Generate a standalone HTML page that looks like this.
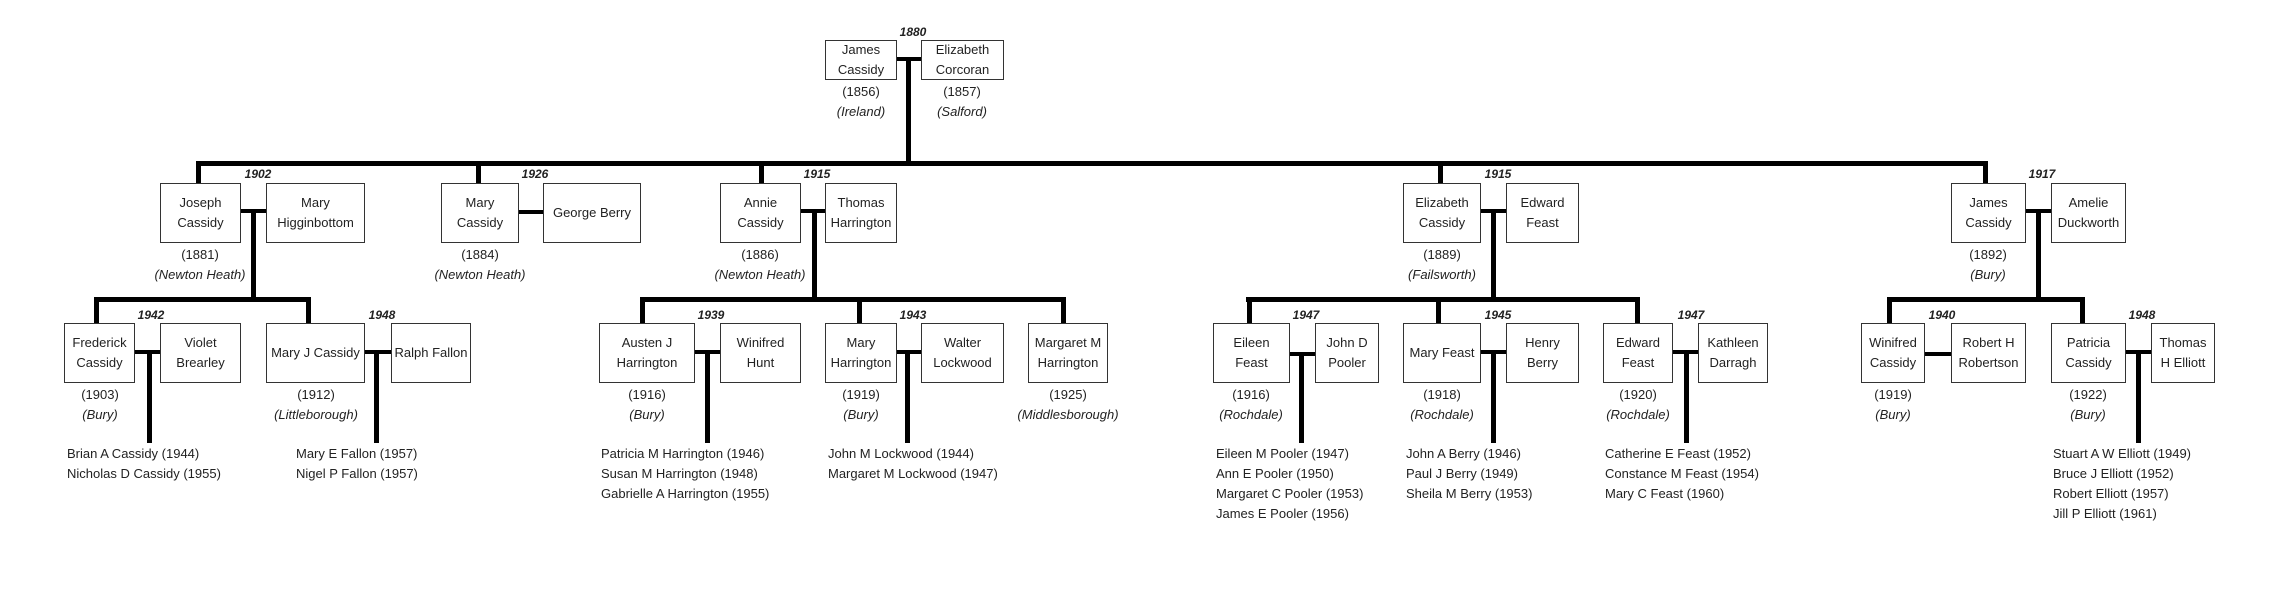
<!DOCTYPE html>
<html><head><meta charset="utf-8"><style>
body{margin:0;width:2278px;height:600px;background:#fff;position:relative;overflow:hidden;font-family:"Liberation Sans Narrow","Liberation Sans",sans-serif;font-size:13px;color:#222}
.b{position:absolute;top:183px;height:60px;border:1px solid #333;box-sizing:border-box;display:flex;align-items:center;justify-content:center;text-align:center;line-height:20px;background:#fff}
.g3{top:323px}
.l{position:absolute;background:#000}
.t{position:absolute;width:200px;text-align:center;line-height:20px;white-space:nowrap}
.i{font-style:italic}
.y{position:absolute;width:60px;text-align:center;font-weight:bold;font-style:italic;font-size:12px;line-height:16px}
.c{position:absolute;line-height:20px;white-space:nowrap}
</style></head><body>
<!-- top -->
<div class="l" style="left:897px;top:57px;width:24px;height:4px"></div>
<div class="l" style="left:906px;top:57px;width:5px;height:106px"></div>
<div class="l" style="left:196px;top:161px;width:1791px;height:5px"></div>
<div class="l" style="left:196px;top:161px;width:5px;height:22px"></div>
<div class="l" style="left:476px;top:161px;width:5px;height:22px"></div>
<div class="l" style="left:759px;top:161px;width:5px;height:22px"></div>
<div class="l" style="left:1438px;top:161px;width:5px;height:22px"></div>
<div class="l" style="left:1983px;top:161px;width:5px;height:22px"></div>
<div class="b" style="top:40px;height:40px;left:825px;width:72px">James<br>Cassidy</div>
<div class="b" style="top:40px;height:40px;left:921px;width:83px">Elizabeth<br>Corcoran</div>
<div class="y" style="left:883px;top:24px">1880</div>
<div class="t" style="left:761px;top:82px">(1856)</div>
<div class="t i" style="left:761px;top:102px">(Ireland)</div>
<div class="t" style="left:862px;top:82px">(1857)</div>
<div class="t i" style="left:862px;top:102px">(Salford)</div>

<!-- gen2 lines -->
<div class="l" style="left:241px;top:209px;width:25px;height:4px"></div>
<div class="l" style="left:251px;top:209px;width:5px;height:91px"></div>
<div class="l" style="left:519px;top:210px;width:24px;height:4px"></div>
<div class="l" style="left:801px;top:209px;width:24px;height:4px"></div>
<div class="l" style="left:812px;top:209px;width:5px;height:91px"></div>
<div class="l" style="left:1481px;top:209px;width:25px;height:4px"></div>
<div class="l" style="left:1491px;top:209px;width:5px;height:91px"></div>
<div class="l" style="left:2026px;top:209px;width:25px;height:4px"></div>
<div class="l" style="left:2036px;top:209px;width:5px;height:91px"></div>
<!-- gen2 boxes -->
<div class="b" style="left:160px;width:81px">Joseph<br>Cassidy</div>
<div class="b" style="left:266px;width:99px">Mary<br>Higginbottom</div>
<div class="b" style="left:441px;width:78px">Mary<br>Cassidy</div>
<div class="b" style="left:543px;width:98px">George Berry</div>
<div class="b" style="left:720px;width:81px">Annie<br>Cassidy</div>
<div class="b" style="left:825px;width:72px">Thomas<br>Harrington</div>
<div class="b" style="left:1403px;width:78px">Elizabeth<br>Cassidy</div>
<div class="b" style="left:1506px;width:73px">Edward<br>Feast</div>
<div class="b" style="left:1951px;width:75px">James<br>Cassidy</div>
<div class="b" style="left:2051px;width:75px">Amelie<br>Duckworth</div>
<div class="y" style="left:228px;top:166px">1902</div>
<div class="y" style="left:505px;top:166px">1926</div>
<div class="y" style="left:787px;top:166px">1915</div>
<div class="y" style="left:1468px;top:166px">1915</div>
<div class="y" style="left:2012px;top:166px">1917</div>
<div class="t" style="left:100px;top:245px">(1881)</div><div class="t i" style="left:100px;top:265px">(Newton Heath)</div>
<div class="t" style="left:380px;top:245px">(1884)</div><div class="t i" style="left:380px;top:265px">(Newton Heath)</div>
<div class="t" style="left:660px;top:245px">(1886)</div><div class="t i" style="left:660px;top:265px">(Newton Heath)</div>
<div class="t" style="left:1342px;top:245px">(1889)</div><div class="t i" style="left:1342px;top:265px">(Failsworth)</div>
<div class="t" style="left:1888px;top:245px">(1892)</div><div class="t i" style="left:1888px;top:265px">(Bury)</div>

<!-- gen3 horizontals -->
<div class="l" style="left:94px;top:297px;width:217px;height:5px"></div>
<div class="l" style="left:640px;top:297px;width:426px;height:5px"></div>
<div class="l" style="left:1246px;top:297px;width:394px;height:5px"></div>
<div class="l" style="left:1887px;top:297px;width:198px;height:5px"></div>
<div class="l" style="left:94px;top:297px;width:5px;height:26px"></div>
<div class="l" style="left:306px;top:297px;width:5px;height:26px"></div>
<div class="l" style="left:640px;top:297px;width:5px;height:26px"></div>
<div class="l" style="left:857px;top:297px;width:5px;height:26px"></div>
<div class="l" style="left:1061px;top:297px;width:5px;height:26px"></div>
<div class="l" style="left:1247px;top:297px;width:5px;height:26px"></div>
<div class="l" style="left:1436px;top:297px;width:5px;height:26px"></div>
<div class="l" style="left:1635px;top:297px;width:5px;height:26px"></div>
<div class="l" style="left:1887px;top:297px;width:5px;height:26px"></div>
<div class="l" style="left:2080px;top:297px;width:5px;height:26px"></div>
<!-- gen3 marriage bars -->
<div class="l" style="left:135px;top:350px;width:25px;height:4px"></div>
<div class="l" style="left:147px;top:350px;width:5px;height:93px"></div>
<div class="l" style="left:365px;top:350px;width:26px;height:4px"></div>
<div class="l" style="left:374px;top:350px;width:5px;height:93px"></div>
<div class="l" style="left:695px;top:350px;width:25px;height:4px"></div>
<div class="l" style="left:705px;top:350px;width:5px;height:93px"></div>
<div class="l" style="left:897px;top:350px;width:24px;height:4px"></div>
<div class="l" style="left:905px;top:350px;width:5px;height:93px"></div>
<div class="l" style="left:1290px;top:352px;width:25px;height:4px"></div>
<div class="l" style="left:1299px;top:352px;width:5px;height:91px"></div>
<div class="l" style="left:1481px;top:350px;width:25px;height:4px"></div>
<div class="l" style="left:1491px;top:350px;width:5px;height:93px"></div>
<div class="l" style="left:1673px;top:350px;width:25px;height:4px"></div>
<div class="l" style="left:1684px;top:350px;width:5px;height:93px"></div>
<div class="l" style="left:1925px;top:352px;width:26px;height:4px"></div>
<div class="l" style="left:2126px;top:350px;width:25px;height:4px"></div>
<div class="l" style="left:2136px;top:350px;width:5px;height:93px"></div>
<!-- gen3 boxes -->
<div class="b g3" style="left:64px;width:71px">Frederick<br>Cassidy</div>
<div class="b g3" style="left:160px;width:81px">Violet<br>Brearley</div>
<div class="b g3" style="left:266px;width:99px">Mary J Cassidy</div>
<div class="b g3" style="left:391px;width:80px">Ralph Fallon</div>
<div class="b g3" style="left:599px;width:96px">Austen J<br>Harrington</div>
<div class="b g3" style="left:720px;width:81px">Winifred<br>Hunt</div>
<div class="b g3" style="left:825px;width:72px">Mary<br>Harrington</div>
<div class="b g3" style="left:921px;width:83px">Walter<br>Lockwood</div>
<div class="b g3" style="left:1028px;width:80px">Margaret M<br>Harrington</div>
<div class="b g3" style="left:1213px;width:77px">Eileen<br>Feast</div>
<div class="b g3" style="left:1315px;width:64px">John D<br>Pooler</div>
<div class="b g3" style="left:1403px;width:78px">Mary Feast</div>
<div class="b g3" style="left:1506px;width:73px">Henry<br>Berry</div>
<div class="b g3" style="left:1603px;width:70px">Edward<br>Feast</div>
<div class="b g3" style="left:1698px;width:70px">Kathleen<br>Darragh</div>
<div class="b g3" style="left:1861px;width:64px">Winifred<br>Cassidy</div>
<div class="b g3" style="left:1951px;width:75px">Robert H<br>Robertson</div>
<div class="b g3" style="left:2051px;width:75px">Patricia<br>Cassidy</div>
<div class="b g3" style="left:2151px;width:64px">Thomas<br>H Elliott</div>
<div class="y" style="left:121px;top:307px">1942</div>
<div class="y" style="left:352px;top:307px">1948</div>
<div class="y" style="left:681px;top:307px">1939</div>
<div class="y" style="left:883px;top:307px">1943</div>
<div class="y" style="left:1276px;top:307px">1947</div>
<div class="y" style="left:1468px;top:307px">1945</div>
<div class="y" style="left:1661px;top:307px">1947</div>
<div class="y" style="left:1912px;top:307px">1940</div>
<div class="y" style="left:2112px;top:307px">1948</div>
<div class="t" style="left:0px;top:385px">(1903)</div><div class="t i" style="left:0px;top:405px">(Bury)</div>
<div class="t" style="left:216px;top:385px">(1912)</div><div class="t i" style="left:216px;top:405px">(Littleborough)</div>
<div class="t" style="left:547px;top:385px">(1916)</div><div class="t i" style="left:547px;top:405px">(Bury)</div>
<div class="t" style="left:761px;top:385px">(1919)</div><div class="t i" style="left:761px;top:405px">(Bury)</div>
<div class="t" style="left:968px;top:385px">(1925)</div><div class="t i" style="left:968px;top:405px">(Middlesborough)</div>
<div class="t" style="left:1151px;top:385px">(1916)</div><div class="t i" style="left:1151px;top:405px">(Rochdale)</div>
<div class="t" style="left:1342px;top:385px">(1918)</div><div class="t i" style="left:1342px;top:405px">(Rochdale)</div>
<div class="t" style="left:1538px;top:385px">(1920)</div><div class="t i" style="left:1538px;top:405px">(Rochdale)</div>
<div class="t" style="left:1793px;top:385px">(1919)</div><div class="t i" style="left:1793px;top:405px">(Bury)</div>
<div class="t" style="left:1988px;top:385px">(1922)</div><div class="t i" style="left:1988px;top:405px">(Bury)</div>
<!-- children -->
<div class="c" style="left:67px;top:444px">Brian A Cassidy (1944)<br>Nicholas D Cassidy (1955)</div>
<div class="c" style="left:296px;top:444px">Mary E Fallon (1957)<br>Nigel P Fallon (1957)</div>
<div class="c" style="left:601px;top:444px">Patricia M Harrington (1946)<br>Susan M Harrington (1948)<br>Gabrielle A Harrington (1955)</div>
<div class="c" style="left:828px;top:444px">John M Lockwood (1944)<br>Margaret M Lockwood (1947)</div>
<div class="c" style="left:1216px;top:444px">Eileen M Pooler (1947)<br>Ann E Pooler (1950)<br>Margaret C Pooler (1953)<br>James E Pooler (1956)</div>
<div class="c" style="left:1406px;top:444px">John A Berry (1946)<br>Paul J Berry (1949)<br>Sheila M Berry (1953)</div>
<div class="c" style="left:1605px;top:444px">Catherine E Feast (1952)<br>Constance M Feast (1954)<br>Mary C Feast (1960)</div>
<div class="c" style="left:2053px;top:444px">Stuart A W Elliott (1949)<br>Bruce J Elliott (1952)<br>Robert Elliott (1957)<br>Jill P Elliott (1961)</div>
</body></html>
